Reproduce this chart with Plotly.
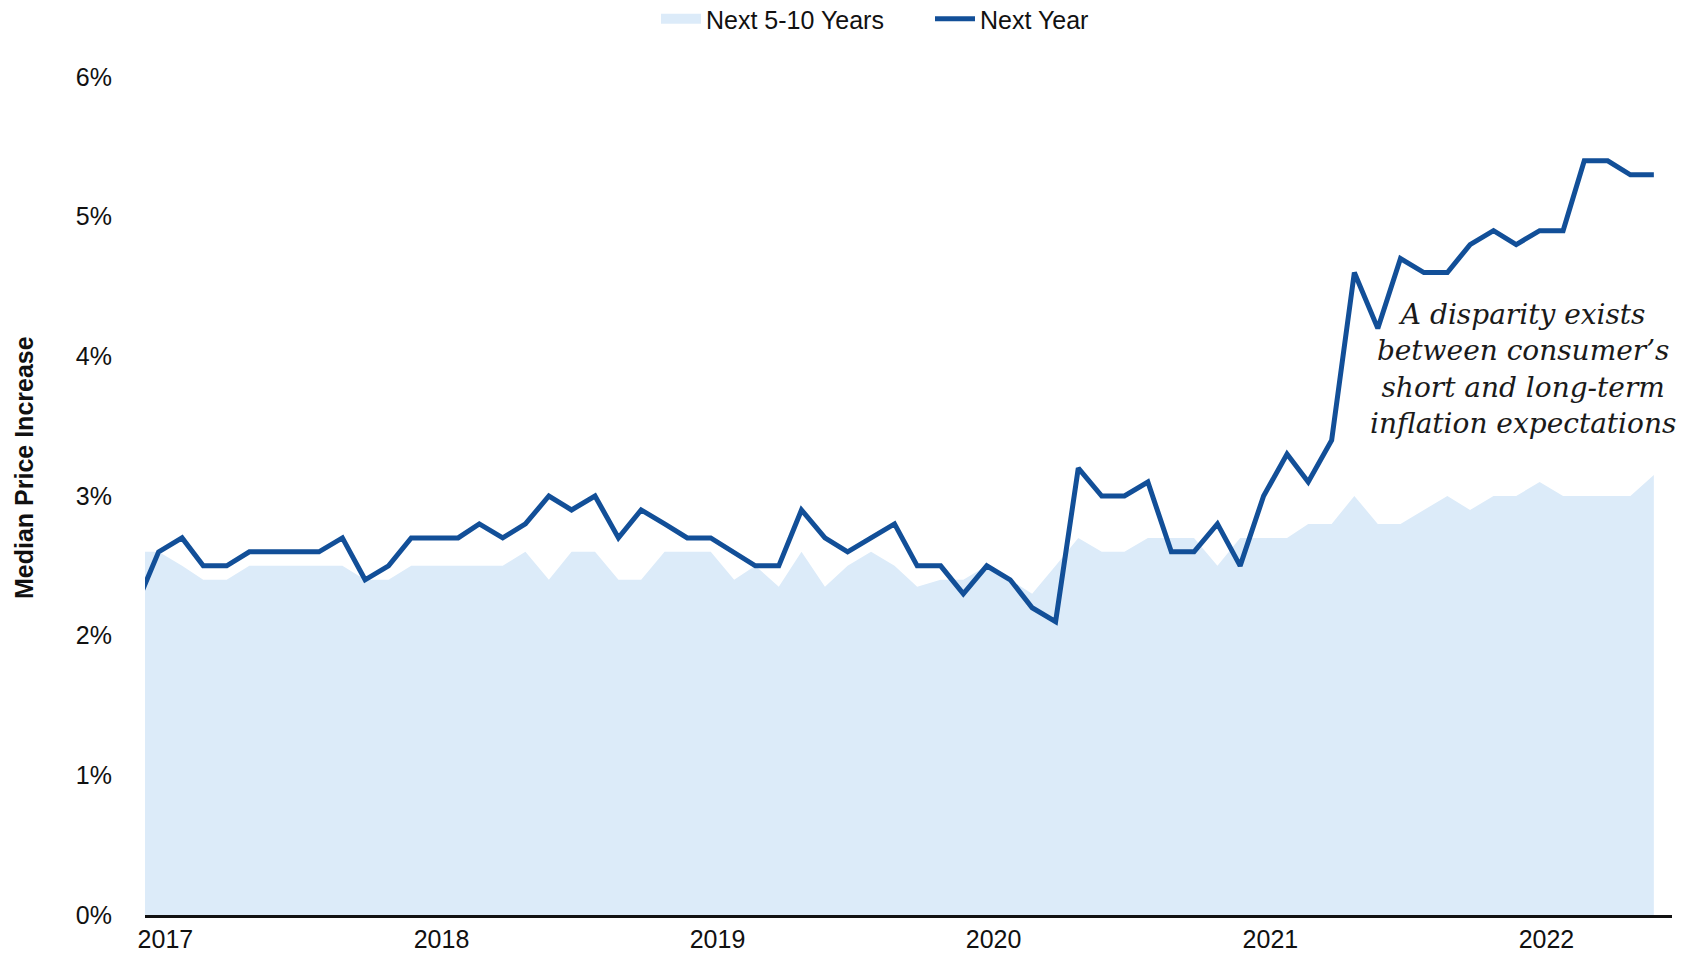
import plotly.graph_objects as go
import pandas as pd

months = pd.date_range("2016-12-01", "2022-06-01", freq="MS").strftime("%Y-%m-%d").tolist()

next_year = [
    2.2,
    2.6, 2.7, 2.5, 2.5, 2.6, 2.6, 2.6, 2.6, 2.7, 2.4, 2.5, 2.7,
    2.7, 2.7, 2.8, 2.7, 2.8, 3.0, 2.9, 3.0, 2.7, 2.9, 2.8, 2.7,
    2.7, 2.6, 2.5, 2.5, 2.9, 2.7, 2.6, 2.7, 2.8, 2.5, 2.5, 2.3,
    2.5, 2.4, 2.2, 2.1, 3.2, 3.0, 3.0, 3.1, 2.6, 2.6, 2.8, 2.5,
    3.0, 3.3, 3.1, 3.4, 4.6, 4.2, 4.7, 4.6, 4.6, 4.8, 4.9, 4.8,
    4.9, 4.9, 5.4, 5.4, 5.3, 5.3,
]

next_5_10_years = [
    2.6,
    2.6, 2.5, 2.4, 2.4, 2.5, 2.5, 2.5, 2.5, 2.5, 2.4, 2.4, 2.5,
    2.5, 2.5, 2.5, 2.5, 2.6, 2.4, 2.6, 2.6, 2.4, 2.4, 2.6, 2.6,
    2.6, 2.4, 2.5, 2.35, 2.6, 2.35, 2.5, 2.6, 2.5, 2.35, 2.4, 2.4,
    2.5, 2.4, 2.3, 2.5, 2.7, 2.6, 2.6, 2.7, 2.7, 2.7, 2.5, 2.7,
    2.7, 2.7, 2.8, 2.8, 3.0, 2.8, 2.8, 2.9, 3.0, 2.9, 3.0, 3.0,
    3.1, 3.0, 3.0, 3.0, 3.0, 3.15,
]

year_ticks = ["2017-01-10", "2018-01-10", "2019-01-10", "2020-01-10", "2021-01-10", "2022-01-10"]
year_labels = ["2017", "2018", "2019", "2020", "2021", "2022"]
y_ticks = [0, 1, 2, 3, 4, 5, 6]
y_labels = ["0%", "1%", "2%", "3%", "4%", "5%", "6%"]

note_lines = [
    "A disparity exists",
    "between consumer\u2019s",
    "short and long-term",
    "inflation expectations",
]

BLUE = "#124f98"
FILL = "#dcebf9"
FONT = "Liberation Sans, Arial, sans-serif"

fig = go.Figure()
fig.add_trace(go.Scatter(
    x=months, y=next_5_10_years, name="Next 5-10 Years",
    mode="lines", line=dict(width=0, color=FILL),
    fill="tozeroy", fillcolor=FILL, showlegend=False, legendgroup="lt",
))
# legend swatch for the filled series
fig.add_trace(go.Scatter(
    x=[None], y=[None], name="Next 5-10 Years", legendgroup="lt",
    mode="lines", line=dict(width=10, color=FILL), hoverinfo="skip",
))
fig.add_trace(go.Scatter(
    x=months, y=next_year, name="Next Year",
    mode="lines", line=dict(width=5, color=BLUE),
))

fig.add_annotation(
    text="<br>".join(note_lines),
    xref="paper", yref="paper", x=(1523 - 145) / 1527, y=(915 - 369) / 838,
    xanchor="center", yanchor="middle", align="center", showarrow=False,
    font=dict(family="DejaVu Serif, Georgia, serif", size=28, color="#1a1a1a", style="italic"),
)
fig.add_annotation(
    text="<b>Median Price Increase</b>",
    xref="paper", yref="paper", x=(24 - 145) / 1527, y=(915 - 468) / 838,
    xanchor="center", yanchor="middle", textangle=-90, showarrow=False,
    font=dict(family=FONT, size=25, color="#111111"),
)

fig.update_layout(
    width=1686, height=957,
    margin=dict(l=145, r=14, t=77, b=42, autoexpand=False),
    paper_bgcolor="white", plot_bgcolor="white",
    font=dict(family=FONT, size=25, color="#111111"),
    showlegend=True,
    legend=dict(
        orientation="h", xref="paper", yref="paper",
        x=(930 - 145) / 1527, xanchor="center",
        y=1 + (77 - 19) / 838, yanchor="middle",
        font=dict(size=25, color="#111111"), bgcolor="rgba(0,0,0,0)",
        itemwidth=40, tracegroupgap=0, entrywidth=219, entrywidthmode="pixels",
    ),
    xaxis=dict(
        type="date", range=["2016-12-14", "2022-06-25"],
        tickmode="array", tickvals=year_ticks, ticktext=year_labels,
        showgrid=False, zeroline=False, automargin=False,
        showline=True, linecolor="#111111", linewidth=3,
        ticks="outside", ticklen=0, tickcolor="rgba(0,0,0,0)",
        tickfont=dict(size=25, color="#111111"),
    ),
    yaxis=dict(
        range=[0, 6], tickmode="array", tickvals=y_ticks, ticktext=y_labels,
        showgrid=False, zeroline=False, showline=False, automargin=False,
        ticks="outside", ticklen=27, tickcolor="rgba(0,0,0,0)",
        tickfont=dict(size=25, color="#111111"),
    ),
)

fig.write_html(
    "out.html",
    config={"displayModeBar": False},
    post_script="document.body.style.margin='0';document.body.style.overflow='hidden';",
)
